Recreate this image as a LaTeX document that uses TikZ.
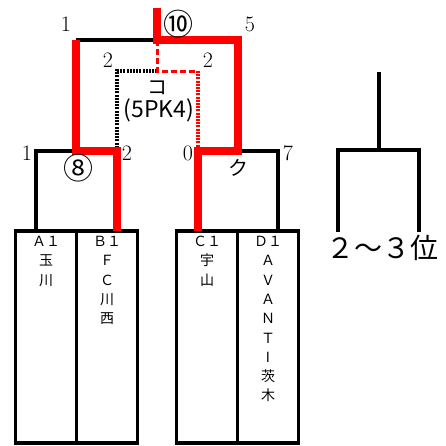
\documentclass[tikz,border=0pt]{standalone}
\usepackage{fontspec}
\newfontfamily\jpfont{Noto Sans CJK JP}
\usetikzlibrary{positioning}

\tikzset{
  thinline/.style={line width=3.2pt},
  winline/.style={red, line width=7.5pt},
  pkblack/.style={line width=3.5pt, dash pattern=on 2pt off 1.2pt},
  pkdash/.style={red, line width=3pt, dash pattern=on 6pt off 3pt},
  pkdot/.style={red, line width=3.5pt, dash pattern=on 2pt off 1.2pt},
  teambox/.style={draw, line width=3.5pt, minimum width=61pt, minimum height=212pt, inner sep=0pt},
  teamname/.style={font=\jpfont\fontsize{14}{19.3}\selectfont, align=center, inner sep=0pt},
  score/.style={font=\fontsize{22}{22}\selectfont, inner sep=0pt},
  circnum/.style={font=\jpfont\fontsize{30}{30}\selectfont, inner sep=0pt},
  kana/.style={font=\jpfont\fontsize{20}{20}\selectfont, inner sep=0pt},
}

\begin{document}
\begin{tikzpicture}[x=1pt, y=-1pt]
\useasboundingbox (0,0) rectangle (446,445);

%--- Team boxes ---
\node[teambox] (boxA) at (46,337) {};
\node[teambox] (boxB) at (107,337) {};
\node[teambox] (boxC) at (207,337) {};
\node[teambox] (boxD) at (268,337) {};

% Team names (vertical)
\node[teamname, anchor=north] (nameA) at (46,236) {Ａ１\\玉\\川};
\node[teamname, anchor=north] (nameB) at (107,236) {Ｂ１\\Ｆ\\Ｃ\\川\\西};
\node[teamname, anchor=north] (nameC) at (207,236) {Ｃ１\\宇\\山};
\node[teamname, anchor=north] (nameD) at (268,236) {Ｄ１\\Ａ\\Ｖ\\Ａ\\Ｎ\\Ｔ\\I\\茨\\木};

%--- Bracket points ---
\coordinate (legA) at (36,231);
\coordinate (legB) at (117,231);
\coordinate (legC) at (198,231);
\coordinate (legD) at (278,231);
\coordinate (sfA) at (36,151);
\coordinate (sfB) at (117,151);
\coordinate (sfL) at (76,151);
\coordinate (sfC) at (198,151);
\coordinate (sfD) at (278,151);
\coordinate (sfR) at (238,151);
\coordinate (finL) at (76,40);
\coordinate (finR) at (238,40);
\coordinate (fin) at (157,40);
\coordinate (top) at (157,8);
\coordinate (pkL) at (117,71);
\coordinate (pkM) at (157,71);
\coordinate (pkR) at (198,71);

%--- Black lines ---
\draw[thinline] (legA) -- (sfA) -- (sfL);
\draw[thinline] (sfR) -- (sfD) -- (legD);
\draw[thinline] (finL) -- (fin);

%--- PK bracket ---
\draw[pkblack] (sfB) -- (pkL) -- (pkM);
\draw[pkdash] (fin) -- (pkM) -- (pkR);
\draw[pkdot] (pkR) -- (sfC);

%--- Winners (red) ---
\draw[winline] (finL) -- (sfL) -- (sfB) -- (legB);
\draw[winline] (top) -- (fin) -- (finR) -- (sfR) -- (sfC) -- (legC);

%--- Scores and match numbers ---
\node[score] (sTopL) at (66,24) {1};
\node[score] (sTopR) at (250,24) {5};
\node[circnum] (mFinal) at (178,24) {⑩};
\node[score] (sPkL) at (108,60) {2};
\node[score] (sPkR) at (208,60) {2};
\node[kana] (kFinal) at (157,88) {コ};
\node[font=\jpfont\fontsize{23}{23}\selectfont, inner sep=0pt] (pkText) at (159,110) {(5PK4)};

\node[score] (sA) at (27,153) {1};
\node[score] (sB) at (127,153) {2};
\node[circnum] (mLeft) at (78,168) {⑧};
\node[score] (sC) at (188,153) {0};
\node[score] (sD) at (288,153) {7};
\node[kana] (kRight) at (238,168) {ク};

%--- 2-3 place bracket ---
\coordinate (qTop) at (379,72);
\coordinate (qMid) at (379,150);
\coordinate (qL) at (338,150);
\coordinate (qR) at (419,150);
\coordinate (qLb) at (338,232);
\coordinate (qRb) at (419,232);
\draw[thinline] (qTop) -- (qMid);
\draw[thinline] (qLb) -- (qL) -- (qR) -- (qRb);
\node[font=\jpfont\fontsize{28}{28}\selectfont, inner sep=0pt] (place) at (382,248) {２～３位};

\end{tikzpicture}
\end{document}
